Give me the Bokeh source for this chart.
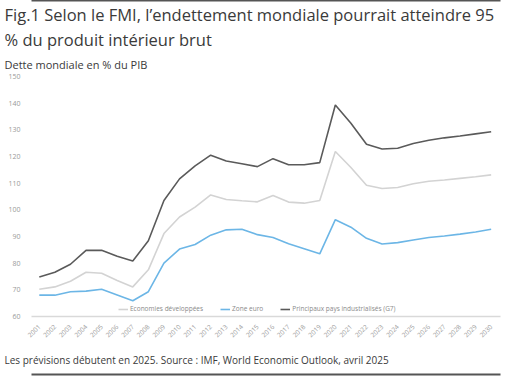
import math
from bokeh.plotting import figure
from bokeh.models import Legend, LegendItem, FixedTicker, ColumnDataSource, Title, LinearAxis
from bokeh.embed import file_html
from bokeh.resources import INLINE

years = list(range(2001, 2031))
developed = [70.2, 71.1, 73.2, 76.6, 76.2, 73.5, 71.1, 77.5, 91.1, 97.3,
             101.0, 105.6, 103.9, 103.4, 103.0, 105.4, 102.9, 102.5, 103.5, 121.9,
             115.9, 109.2, 108.0, 108.4, 109.8, 110.7, 111.2, 111.8, 112.4, 113.1]
euro_zone = [68.0, 68.0, 69.3, 69.5, 70.2, 68.1, 65.9, 69.3, 80.0, 85.3,
             87.0, 90.5, 92.5, 92.7, 90.7, 89.6, 87.3, 85.4, 83.5, 96.3,
             93.5, 89.3, 87.2, 87.7, 88.7, 89.6, 90.2, 90.9, 91.7, 92.7]
g7 = [74.8, 76.6, 79.6, 84.8, 84.8, 82.6, 80.8, 88.4, 103.5, 111.6,
      116.5, 120.5, 118.3, 117.3, 116.2, 119.2, 116.9, 116.9, 117.7, 139.3,
      132.5, 124.6, 122.8, 123.1, 124.9, 126.1, 127.0, 127.7, 128.5, 129.3]
series_names = ["Economies développées", "Zone euro", "Principaux pays industrialisés (G7)"]
y_ticks = [60, 70, 80, 90, 100, 110, 120, 130, 140, 150]

title_1 = "Fig.1 Selon le FMI, l\u2019endettement mondiale pourrait atteindre 95"
title_2 = "% du produit intérieur brut"
subtitle = "Dette mondiale en % du PIB"
footer = "Les prévisions débutent en 2025. Source : IMF, World Economic Outlook, avril 2025"

FONT = "Open Sans"
TXT = "#3a3a3a"

src = ColumnDataSource(dict(year=years, dev=developed, euro=euro_zone, g7=g7))

p = figure(width=501, height=376, x_range=(2000.5, 2030.6), y_range=(60, 150),
           output_backend="svg", toolbar_location=None,
           min_border_left=31, min_border_right=1, min_border_top=68, min_border_bottom=60)
p.outline_line_color = None
p.xgrid.grid_line_color = None
p.ygrid.grid_line_color = None

r1 = p.line("year", "dev", source=src, line_color="#d3d3d3", line_width=1.6)
r2 = p.line("year", "euro", source=src, line_color="#6cb6e6", line_width=1.6)
r3 = p.line("year", "g7", source=src, line_color="#5a5a5a", line_width=1.6)

p.yaxis.ticker = FixedTicker(ticks=y_ticks)
p.yaxis.axis_line_color = None
p.yaxis.major_tick_line_color = None
p.yaxis.minor_tick_line_color = None
p.yaxis.major_label_text_font = FONT
p.yaxis.major_label_text_font_size = "7px"
p.yaxis.major_label_text_color = "#9a9a9a"
p.yaxis.major_label_standoff = 5

p.xaxis.ticker = FixedTicker(ticks=years)
p.xaxis.axis_line_color = "#d9d9d9"
p.xaxis.axis_line_width = 1.5
p.xaxis.major_tick_line_color = None
p.xaxis.minor_tick_line_color = None
p.xaxis.major_label_orientation = math.pi / 4
p.xaxis.major_label_text_font = FONT
p.xaxis.major_label_text_font_size = "6.5px"
p.xaxis.major_label_text_color = "#9a9a9a"
p.xaxis.major_label_standoff = 3

legend = Legend(items=[LegendItem(label=series_names[0], renderers=[r1]),
                       LegendItem(label=series_names[1], renderers=[r2]),
                       LegendItem(label=series_names[2], renderers=[r3])],
                orientation="horizontal", location=(87, 3),
                label_text_font=FONT, label_text_font_size="6.5px", label_text_color="#8a8a8a",
                glyph_width=10, glyph_height=6, label_standoff=2, spacing=17,
                padding=0, margin=0, border_line_color=None, background_fill_alpha=0,
                label_height=6)
p.add_layout(legend, "center")

p.add_layout(Title(text=footer, align="left", offset=-27, text_font=FONT,
                   text_font_size="10px", text_color=TXT, text_font_style="normal",
                   standoff=16), "below")


def rule_axis():
    return LinearAxis(ticker=FixedTicker(ticks=[]), axis_line_color="#555555",
                      axis_line_width=2, major_tick_line_color=None,
                      minor_tick_line_color=None, major_label_text_color=None)


p.add_layout(rule_axis(), "below")

p.add_layout(Title(text=subtitle, align="left", offset=-27, text_font=FONT,
                   text_font_size="11px", text_color=TXT, text_font_style="normal",
                   standoff=9), "above")
p.add_layout(Title(text=title_2, align="left", offset=-27, text_font=FONT,
                   text_font_size="16.5px", text_color=TXT, text_font_style="normal",
                   standoff=0), "above")
p.add_layout(Title(text=title_1, align="left", offset=-27, text_font=FONT,
                   text_font_size="16.5px", text_color=TXT, text_font_style="normal",
                   standoff=0), "above")
p.add_layout(rule_axis(), "above")

open("out.html", "w").write(file_html(p, INLINE))
